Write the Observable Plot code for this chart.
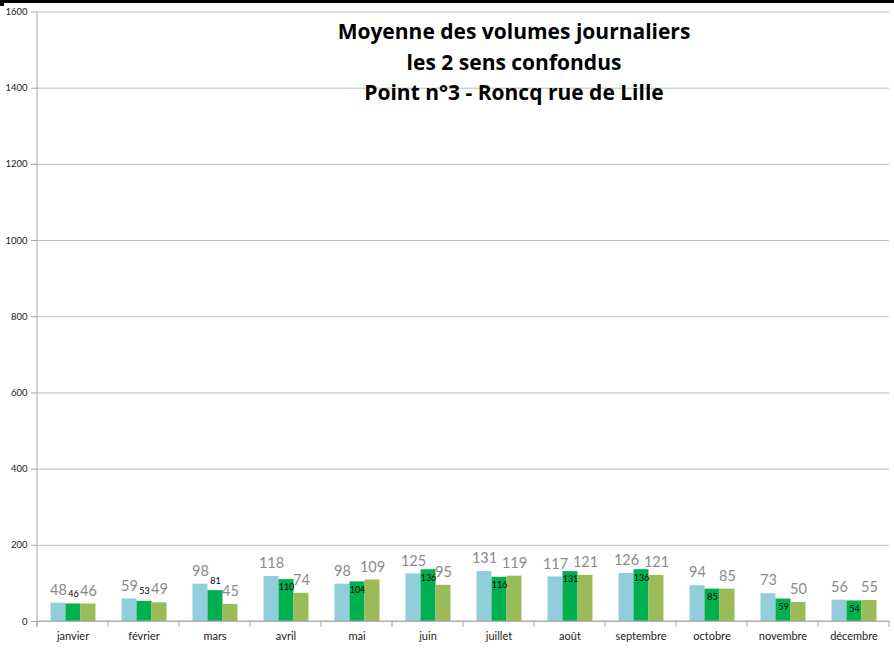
<!DOCTYPE html>
<html>
<head>
<meta charset="utf-8">
<script src="https://cdn.jsdelivr.net/npm/d3@7"></script>
<script src="https://cdn.jsdelivr.net/npm/@observablehq/plot@0.6"></script>
<style>
  html, body { margin: 0; padding: 0; background: #fff; }
  #wrap { position: relative; width: 894px; height: 648px; overflow: hidden; font-family: Lato, "Open Sans", sans-serif; }
  #wrap svg { display: block; }
  #topbar { position: absolute; left: 0; top: 0; width: 894px; height: 3px; background: #000; }
  #notch { position: absolute; left: 0; top: 0; width: 4px; height: 6px; background: #000; }
  #title { position: absolute; left: 314px; width: 400px; top: 16px; text-align: center; font-weight: bold;
           font-family: "Open Sans", sans-serif; font-size: 21px; line-height: 30.7px; color: #000; pointer-events: none; }
  g[aria-label^="y-axis"] text { font-size: 9.5px; }
</style>
</head>
<body>
<div id="wrap">
  <div id="chart"></div>
  <div id="topbar"></div>
  <div id="notch"></div>
  <div id="title">Moyenne des volumes journaliers<br>les 2 sens confondus<br>Point n°3 - Roncq rue de Lille</div>
</div>
<script>
const months = ["janvier", "février", "mars", "avril", "mai", "juin", "juillet", "août", "septembre", "octobre", "novembre", "décembre"];
const seriesNames = ["série 1", "série 2", "série 3"];
const serie1 = [48, 59, 98, 118, 98, 125, 131, 117, 126, 94, 73, 56];
const serie2 = [46, 53, 81, 110, 104, 136, 116, 131, 136, 85, 59, 54];
const serie3 = [46, 49, 45, 74, 109, 95, 119, 121, 121, 85, 50, 55];
const serie2LabelInside = [false, false, false, true, true, true, true, true, true, true, true, true];
const yTicks = [0, 200, 400, 600, 800, 1000, 1200, 1400, 1600];
const colors = ["#92CDDC", "#00B050", "#9BBB59"];

const values = [serie1, serie2, serie3];
const data = months.flatMap((m, i) => seriesNames.map((s, k) => ({
  month: m, serie: s, value: values[k][i], inside: k === 1 ? serie2LabelInside[i] : false
})));

const grayLabels = data.filter(d => d.serie !== seriesNames[1]);
const greenOut = data.filter(d => d.serie === seriesNames[1] && !d.inside);
const greenIn = data.filter(d => d.serie === seriesNames[1] && d.inside);

const chart = Plot.plot({
  width: 894,
  height: 648,
  marginLeft: 36.5,
  marginRight: 5.5,
  marginTop: 11.5,
  marginBottom: 27,
  style: { fontFamily: "Lato, 'Open Sans', sans-serif", fontSize: "11px", color: "#222", background: "transparent" },
  fx: { domain: months, padding: 0, label: null, axis: "bottom", tickSize: 0, tickPadding: 11 },
  x: { domain: seriesNames, paddingInner: 0, paddingOuter: 0.72, axis: null },
  y: { domain: [0, 1600], ticks: yTicks, tickFormat: d => String(d), tickSize: 6, tickPadding: 4, label: null, axis: "left" },
  color: { domain: seriesNames, range: colors },
  marks: [
    Plot.gridY(yTicks, { stroke: "#bdbdbd", strokeOpacity: 1 }),
    Plot.barY(data, { fx: "month", x: "serie", y: "value", fill: "serie" }),
    Plot.text(grayLabels, { fx: "month", x: "serie", y: "value", text: d => String(d.value), dy: -13, fill: "#8a8a8a", fontSize: 14.5 }),
    Plot.text(greenOut, { fx: "month", x: "serie", y: "value", text: d => String(d.value), dy: -10, fill: "#000", fontSize: 9 }),
    Plot.text(greenIn, { fx: "month", x: "serie", y: "value", text: d => String(d.value), dy: 8, fill: "#000", fontSize: 9 })
  ]
});

document.getElementById("chart").appendChild(chart);

// axis lines and category boundary ticks, positioned from Plot's own scales
const svg = d3.select(chart);
const fx = chart.scale("fx");
const y = chart.scale("y");
const y0 = y.apply(0), yTop = y.apply(1600);
const step = fx.step || fx.bandwidth;
const edges = months.map(m => fx.apply(m)).concat([fx.apply(months[months.length - 1]) + step]);
const g = svg.append("g").attr("stroke", "#a6a6a6").attr("stroke-width", 1);
g.append("line").attr("x1", edges[0]).attr("x2", edges[0]).attr("y1", yTop).attr("y2", y0 + 6);
g.append("line").attr("x1", edges[0]).attr("x2", edges[edges.length - 1]).attr("y1", y0).attr("y2", y0);
edges.forEach(e => g.append("line").attr("x1", e).attr("x2", e).attr("y1", y0).attr("y2", y0 + 6));
svg.selectAll('g[aria-label^="y-axis"] path, g[aria-label^="y-axis"] line').attr("stroke", "#a6a6a6");
</script>
</body>
</html>
